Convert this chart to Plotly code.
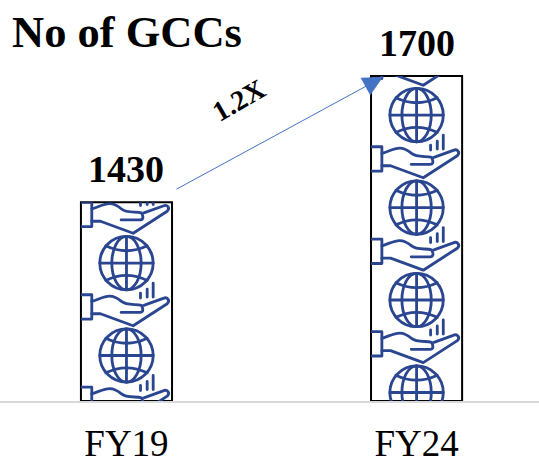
import base64
import plotly.graph_objects as go

categories = ["FY19", "FY24"]
gccs = [1430, 1700]
growth_label = "1.2X"

AXIS_BASE = 1004
AXIS_TOP = 1863
BAR_WIDTH = 0.314
ICON_BLUE = "#2a4690"
SERIF = "Liberation Serif, Times New Roman, serif"


def icon_tile():
    # one globe + hand, drawn around the globe centre, in 3x pixels
    return f"""
    <g fill="none" stroke="{ICON_BLUE}" stroke-width="8.5" stroke-linejoin="round" stroke-linecap="round">
      <circle cx="0" cy="0" r="80"/>
      <ellipse cx="0" cy="0" rx="44" ry="80"/>
      <path d="M0 -80V80M-80 0H80"/>
      <path d="M-62 -52Q0 -22 62 -52M-62 52Q0 22 62 52"/>
      <path d="M-140 95H-104V168H-140"/>
      <path d="M-104 115C-70 105 -50 85 -15 115C0 128 30 122 45 127C52 140 50 148 40 148H-16"/>
      <path d="M-104 152H-78L20 188L122 122C132 112 122 100 110 106L52 127"/>
      <path d="M42 90V105M62 78V102M80 60V102"/>
    </g>"""


def icon_column(height_px, first_globe_px):
    # repeat the tile down the bar, the viewBox clips it to the bar
    period = 92.5
    tiles = []
    y = first_globe_px - period
    while y < height_px + period:
        tiles.append(f'<g transform="translate(45.5 {y}) scale(0.3333)">{icon_tile()}</g>')
        y += period
    svg = (
        f'<svg xmlns="http://www.w3.org/2000/svg" width="91" height="{height_px}" '
        f'viewBox="0 0 91 {height_px}">{"".join(tiles)}</svg>'
    )
    return "data:image/svg+xml;base64," + base64.b64encode(svg.encode()).decode()


fig = go.Figure()

fig.add_trace(go.Bar(
    x=categories, y=[v - AXIS_BASE for v in gccs], base=AXIS_BASE,
    width=BAR_WIDTH,
    marker=dict(color="white", line=dict(color="black", width=2)),
    hoverinfo="skip",
))

first_globes = [61, 39]
for cat, value, first in zip(categories, gccs, first_globes):
    px_height = round((value - AXIS_BASE) * 401 / (AXIS_TOP - AXIS_BASE))
    fig.add_layout_image(
        source=icon_column(px_height, first),
        xref="x", yref="y", x=cat, y=value,
        sizex=BAR_WIDTH, sizey=value - AXIS_BASE,
        xanchor="center", yanchor="top", sizing="stretch", layer="above",
    )
    fig.add_annotation(
        x=cat, y=value, text=f"<b>{value}</b>", showarrow=False,
        xanchor="center", yanchor="bottom", yshift=10,
        font=dict(family=SERIF, size=38, color="black"),
    )

fig.add_annotation(
    xref="paper", yref="paper", x=383 / 539, y=1 - 77 / 401,
    axref="pixel", ayref="pixel", ax=-208, ay=113,
    text="", showarrow=True, arrowhead=2, arrowsize=4, arrowwidth=1, arrowcolor="#4472c4",
)
fig.add_annotation(
    xref="paper", yref="paper", x=238 / 539, y=1 - 100 / 401,
    xanchor="center", yanchor="middle",
    text=f"<b>{growth_label}</b>", showarrow=False, textangle=-30,
    font=dict(family=SERIF, size=28, color="black"),
)

fig.update_layout(
    title=dict(
        text="<b>No of GCCs</b>", x=12 / 539, xanchor="left", y=1 - 31 / 458, yanchor="middle",
        font=dict(family=SERIF, size=44.5, color="black"),
    ),
    width=539, height=458,
    margin=dict(l=0, r=0, t=0, b=57),
    plot_bgcolor="white", paper_bgcolor="white",
    showlegend=False,
    xaxis=dict(
        range=[-0.436, 1.422], showline=True, linecolor="#d9d9d9", linewidth=2,
        ticks="", ticklabelstandoff=9, showgrid=False, automargin=False,
        tickfont=dict(family=SERIF, size=37, color="black"),
    ),
    yaxis=dict(range=[AXIS_BASE, AXIS_TOP], visible=False, showgrid=False, zeroline=False),
)

# the page's default body margin would shift the chart by 8px
fig.write_html(
    "out.html",
    config=dict(displayModeBar=False),
    post_script="document.body.style.margin = '0';",
)
